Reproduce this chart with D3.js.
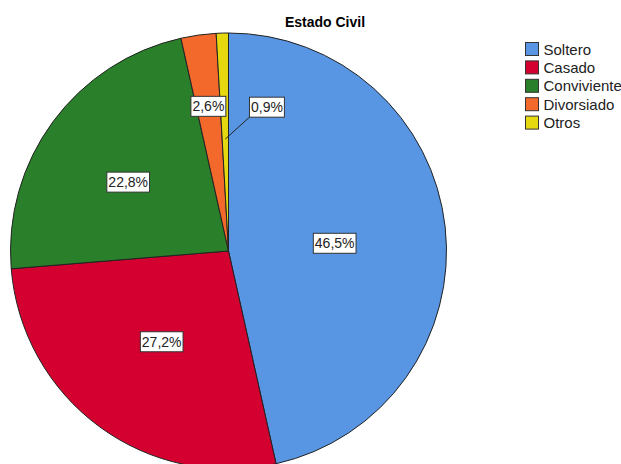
<!DOCTYPE html>
<html>
<head>
<meta charset="utf-8">
<script src="https://cdn.jsdelivr.net/npm/d3@7"></script>
<style>
  body { margin: 0; background: #fff; }
  text { font-family: "Liberation Sans", Arial, sans-serif; }
</style>
</head>
<body>
<div id="chart"></div>
<script>
// Donnees
const categories = ["Soltero", "Casado", "Conviviente", "Divorsiado", "Otros"];
const valeurs = [46.5, 27.2, 22.8, 2.6, 0.9];
const etiquettes = ["46,5%", "27,2%", "22,8%", "2,6%", "0,9%"];
const couleurs = ["#5896e4", "#d4002f", "#2a7f2a", "#f3692b", "#e5d80f"];

const width = 621, height = 464;
const cx = 228.5, cy = 251, R = 218;

const svg = d3.select("#chart")
    .append("svg")
    .attr("width", width)
    .attr("height", height);

// Titre
svg.append("text")
    .attr("x", 325)
    .attr("y", 27)
    .attr("text-anchor", "middle")
    .attr("font-size", 14)
    .attr("font-weight", "bold")
    .text("Estado Civil");

const pie = d3.pie().sort(null).value(d => d);
const arcs = pie(valeurs);
const arc = d3.arc().innerRadius(0).outerRadius(R);

const g = svg.append("g").attr("transform", `translate(${cx},${cy})`);

g.selectAll("path")
    .data(arcs)
    .join("path")
    .attr("d", arc)
    .attr("fill", (d, i) => couleurs[i])
    .attr("stroke", "#222")
    .attr("stroke-width", 1);

// Etiquettes: rayon relatif et decalage pour les petites tranches
const rayonEtiq = [0.49, 0.517, 0.56, 0.67, 0.66];
const decal = [[0, 4], [0, 0], [-2, 3.5], [0, 0], [42.5, 0]];

arcs.forEach((d, i) => {
    const a = (d.startAngle + d.endAngle) / 2;
    const r = R * rayonEtiq[i];
    const px = Math.sin(a) * r, py = -Math.cos(a) * r;
    const lx = px + decal[i][0], ly = py + decal[i][1];

    const lg = g.append("g").attr("transform", `translate(${lx},${ly})`);
    const t = lg.append("text")
        .attr("text-anchor", "middle")
        .attr("dy", "0.36em")
        .attr("font-size", 14)
        .attr("fill", "#222")
        .text(etiquettes[i]);
    const bb = t.node().getBBox();
    lg.insert("rect", "text")
        .attr("x", bb.x - 1.5)
        .attr("y", -10)
        .attr("width", bb.width + 3)
        .attr("height", 20)
        .attr("fill", "#fff")
        .attr("stroke", "#333")
        .attr("stroke-width", 1);

    if (i === 4) {
        // ligne de rappel
        const r2 = R * 0.514;
        g.insert("line", "g")
            .attr("x1", Math.sin(a) * r2)
            .attr("y1", -Math.cos(a) * r2)
            .attr("x2", lx - bb.width / 2 - 1.5)
            .attr("y2", ly + 10)
            .attr("stroke", "#222")
            .attr("stroke-width", 1);
    }
});

// Legende
const legende = svg.append("g").attr("transform", "translate(525.5,42.5)");
categories.forEach((c, i) => {
    const row = legende.append("g").attr("transform", `translate(0,${i * 18.4})`);
    row.append("rect")
        .attr("width", 13)
        .attr("height", 13)
        .attr("fill", couleurs[i])
        .attr("stroke", "#333")
        .attr("stroke-width", 1);
    row.append("text")
        .attr("x", 18)
        .attr("y", 12)
        .attr("font-size", 15)
        .attr("fill", "#222")
        .text(c);
});
</script>
</body>
</html>
